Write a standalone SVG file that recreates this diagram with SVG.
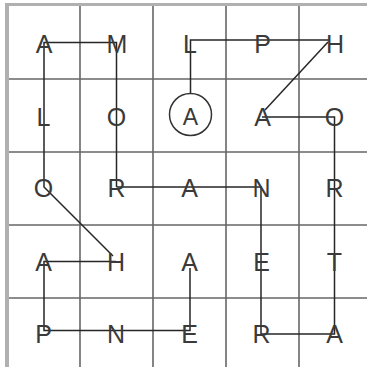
<svg xmlns="http://www.w3.org/2000/svg" width="367" height="367" viewBox="0 0 367 367">
<style>
.grid{stroke:#666;stroke-width:1.6;fill:none}
.border{stroke:#b0b0b0;fill:none}
.conn{stroke:#262626;stroke-width:1.5;fill:none}
text{font-family:"Liberation Sans",Arial,sans-serif;font-size:25px;fill:#3a3a3a;text-anchor:middle}
.circ{stroke:#333;stroke-width:1.5;fill:none}
</style>
<rect width="367" height="367" fill="#fff"/>
<g id="grid">
<line class="border" x1="7" y1="3" x2="7" y2="367" stroke-width="4"/>
<line class="border" x1="5" y1="4.5" x2="367" y2="4.5" stroke-width="3"/>
<line class="grid" x1="80" y1="6" x2="80" y2="367"/>
<line class="grid" x1="153" y1="6" x2="153" y2="367"/>
<line class="grid" x1="226" y1="6" x2="226" y2="367"/>
<line class="grid" x1="299" y1="6" x2="299" y2="367"/>
<line class="grid" x1="9" y1="79" x2="367" y2="79"/>
<line class="grid" x1="9" y1="152" x2="367" y2="152"/>
<line class="grid" x1="9" y1="225" x2="367" y2="225"/>
<line class="grid" x1="9" y1="298" x2="367" y2="298"/>
</g>
<g id="connectors">
<path class="conn" d="M116.5,187 L116.5,42.5 L44,42.5 L44,187 L113,256"/>
<path class="conn" d="M116,261.5 L44,261.5 L44,330.5 L190,330.5 L190,268"/>
<path class="conn" d="M116.5,187 L261,187 L261,334 L334.5,334 L334.5,117 L262,117"/>
<path class="conn" d="M265,110 L328,42"/>
<path class="conn" d="M330,40 L190.5,40 L190.5,93"/>
</g>
<g id="r1c1"><text x="44" y="52.5">A</text></g>
<g id="r1c2"><text x="117" y="52.5">M</text></g>
<g id="r1c3"><text x="190" y="52.5">L</text></g>
<g id="r1c4"><text x="262.5" y="52.5">P</text></g>
<g id="r1c5"><text x="335" y="52.5">H</text></g>
<g id="r2c1"><text x="43.5" y="125.5">L</text></g>
<g id="r2c2"><text x="116.5" y="125.5">O</text></g>
<g id="r2c3"><circle class="circ" cx="190.5" cy="114.5" r="21"/><text x="190.5" y="125" style="font-size:23px">A</text></g>
<g id="r2c4"><text x="262.5" y="125.5">A</text></g>
<g id="r2c5"><text x="334.5" y="125.5">O</text></g>
<g id="r3c1"><text x="43.5" y="197">O</text></g>
<g id="r3c2"><text x="116.5" y="197">R</text></g>
<g id="r3c3"><text x="189.5" y="197">A</text></g>
<g id="r3c4"><text x="261.5" y="197">N</text></g>
<g id="r3c5"><text x="334.5" y="197">R</text></g>
<g id="r4c1"><text x="43.5" y="270.5">A</text></g>
<g id="r4c2"><text x="116" y="270.5">H</text></g>
<g id="r4c3"><text x="189.5" y="270.5">A</text></g>
<g id="r4c4"><text x="261.5" y="270.5">E</text></g>
<g id="r4c5"><text x="334.5" y="270.5">T</text></g>
<g id="r5c1"><text x="43.5" y="342.5">P</text></g>
<g id="r5c2"><text x="116" y="342.5">N</text></g>
<g id="r5c3"><text x="189.5" y="342.5">E</text></g>
<g id="r5c4"><text x="261.5" y="342.5">R</text></g>
<g id="r5c5"><text x="334.5" y="342.5">A</text></g>
</svg>
